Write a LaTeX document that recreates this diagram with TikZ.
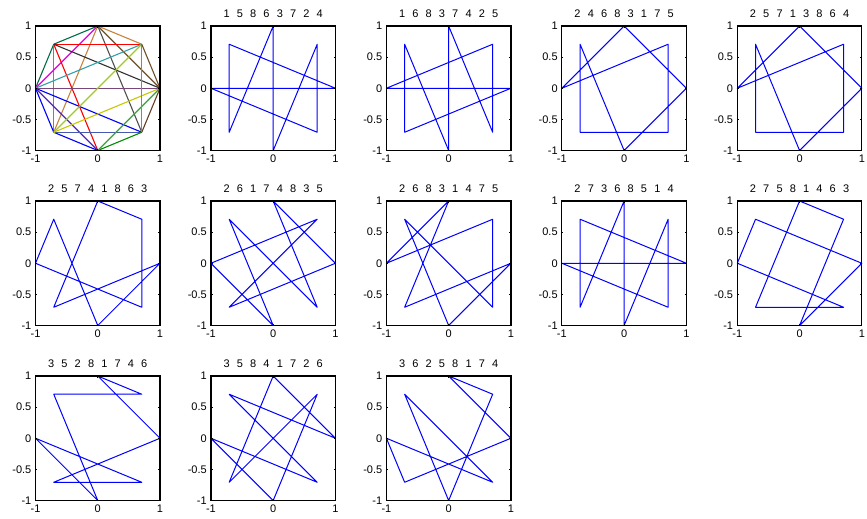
\documentclass[tikz,border=0pt]{standalone}
\usepackage{fontspec}
\setmainfont{Liberation Sans}
\definecolor{cA}{RGB}{0,110,70}
\definecolor{cB}{RGB}{0,0,255}
\definecolor{cC}{RGB}{0,140,0}
\definecolor{cD}{RGB}{100,60,40}
\definecolor{cE}{RGB}{200,130,60}
\definecolor{cF}{RGB}{255,0,0}
\definecolor{cG}{RGB}{70,90,180}
\definecolor{cH}{RGB}{120,70,120}
\definecolor{cI}{RGB}{128,128,128}
\definecolor{cJ}{RGB}{0,190,190}
\definecolor{cK}{RGB}{220,0,220}
\definecolor{cL}{RGB}{80,80,80}
\definecolor{cM}{RGB}{110,80,40}
\definecolor{cN}{RGB}{50,50,50}
\definecolor{cO}{RGB}{50,160,170}
\definecolor{cP}{RGB}{80,40,180}
\definecolor{cQ}{RGB}{160,200,40}
\definecolor{cR}{RGB}{200,200,0}
\definecolor{cS}{RGB}{60,160,60}
\tikzset{
  axbox/.style={black, line width=1.2pt},
  tickmark/.style={black, line width=0.8pt},
  tour/.style={blue, line width=1pt, line join=round},
  kedge/.style={line width=1.1pt},
  lab/.style={font=\fontsize{11}{12}\selectfont, inner sep=0pt},
}
\newcommand\ttl[8]{\makebox[13.3pt]{#1}\makebox[13.3pt]{#2}\makebox[13.3pt]{#3}\makebox[13.3pt]{#4}\makebox[13.3pt]{#5}\makebox[13.3pt]{#6}\makebox[13.3pt]{#7}\makebox[13.3pt]{#8}}
% #1 = left, #2 = top, #3 = title, #4 = drawing
\newcommand\panel[4]{%
  \begin{scope}[shift={(#1+62.25,#2+62.25)}, x=62.25pt, y=62.25pt]
    \foreach \k/\a in {1/90,2/135,3/180,4/225,5/270,6/315,7/0,8/45}
      \coordinate (v\k) at ({cos(\a)},{sin(\a)});
    #4
    \foreach \yy in {-1,-0.5,0,0.5,1} {
      \draw[tickmark] (-1,\yy) -- ++(1.6pt,0);
      \draw[tickmark] (1,\yy) -- ++(-1.6pt,0);
    }
    \foreach \xx in {-1,0,1} {
      \draw[tickmark] (\xx,-1) -- ++(0,1.6pt);
      \draw[tickmark] (\xx,1) -- ++(0,-1.6pt);
    }
    \draw[axbox] (-1,-1) rectangle (1,1);
    \foreach \yy/\t in {-1/-1,-0.5/-0.5,0/0,0.5/0.5,1/1}
      \node[lab, anchor=east, xshift=-4pt] at (-1,\yy) {\t};
    \foreach \xx/\t in {-1/-1,0/0,1/1}
      \node[lab, anchor=north, yshift=-4.5pt] at (\xx,-1) {\t};
    \node[lab, anchor=base, yshift=8.5pt] at (0,1) {#3};
  \end{scope}}
\begin{document}
\begin{tikzpicture}[x=1pt, y=-1pt]
\useasboundingbox (0,0) rectangle (867,519);
% row 1
\panel{35.5}{26}{}{%
  \draw[kedge, cA] (v1) -- (v2);
  \draw[kedge, cA] (v2) -- (v3);
  \draw[kedge, cI] (v2) -- (v4);
  \draw[kedge, cK] (v1) -- (v3);
  \draw[kedge, cE] (v1) -- (v4);
  \draw[kedge, cL] (v1) -- (v6);
  \draw[kedge, cM] (v1) -- (v7);
  \draw[kedge, cE] (v1) -- (v8);
  \draw[kedge, cF] (v2) -- (v8);
  \draw[kedge, cF] (v2) -- (v5);
  \draw[kedge, cN] (v2) -- (v7);
  \draw[kedge, cO] (v3) -- (v8);
  \draw[kedge, cH] (v3) -- (v7);
  \draw[kedge, cB] (v3) -- (v6);
  \draw[kedge, cP] (v3) -- (v5);
  \draw[kedge, cB] (v3) -- (v4);
  \draw[kedge, cB] (v4) -- (v5);
  \draw[kedge, cG] (v4) -- (v6);
  \draw[kedge, cQ] (v4) -- (v8);
  \draw[kedge, cR] (v4) -- (v7);
  \draw[kedge, cC] (v5) -- (v6);
  \draw[kedge, cS] (v5) -- (v7);
  \draw[kedge, cD] (v6) -- (v7);
  \draw[kedge, cJ] (v6) -- (v8);
  \draw[kedge, cM] (v7) -- (v8);
}
\panel{210.95}{26}{\ttl15863724}{\draw[tour] (v1)--(v5)--(v8)--(v6)--(v3)--(v7)--(v2)--(v4)--cycle;}
\panel{386.4}{26}{\ttl16837425}{\draw[tour] (v1)--(v6)--(v8)--(v3)--(v7)--(v4)--(v2)--(v5)--cycle;}
\panel{561.85}{26}{\ttl24683175}{\draw[tour] (v2)--(v4)--(v6)--(v8)--(v3)--(v1)--(v7)--(v5)--cycle;}
\panel{737.3}{26}{\ttl25713864}{\draw[tour] (v2)--(v5)--(v7)--(v1)--(v3)--(v8)--(v6)--(v4)--cycle;}
% row 2
\panel{35.5}{201}{\ttl25741863}{\draw[tour] (v2)--(v5)--(v7)--(v4)--(v1)--(v8)--(v6)--(v3)--cycle;}
\panel{210.95}{201}{\ttl26174835}{\draw[tour] (v2)--(v6)--(v1)--(v7)--(v4)--(v8)--(v3)--(v5)--cycle;}
\panel{386.4}{201}{\ttl26831475}{\draw[tour] (v2)--(v6)--(v8)--(v3)--(v1)--(v4)--(v7)--(v5)--cycle;}
\panel{561.85}{201}{\ttl27368514}{\draw[tour] (v2)--(v7)--(v3)--(v6)--(v8)--(v5)--(v1)--(v4)--cycle;}
\panel{737.3}{201}{\ttl27581463}{\draw[tour] (v2)--(v7)--(v5)--(v8)--(v1)--(v4)--(v6)--(v3)--cycle;}
% row 3
\panel{35.5}{376}{\ttl35281746}{\draw[tour] (v3)--(v5)--(v2)--(v8)--(v1)--(v7)--(v4)--(v6)--cycle;}
\panel{210.95}{376}{\ttl35841726}{\draw[tour] (v3)--(v5)--(v8)--(v4)--(v1)--(v7)--(v2)--(v6)--cycle;}
\panel{386.4}{376}{\ttl36258174}{\draw[tour] (v3)--(v6)--(v2)--(v5)--(v8)--(v1)--(v7)--(v4)--cycle;}
\end{tikzpicture}
\end{document}
